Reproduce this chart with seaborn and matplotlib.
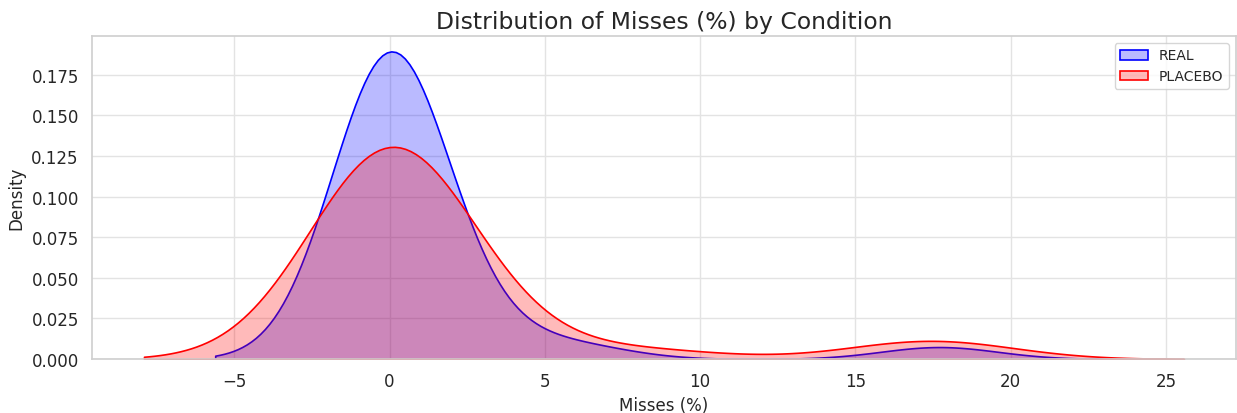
import matplotlib
matplotlib.use("Agg")
import matplotlib.pyplot as plt
import seaborn as sns
import numpy as np

# Misses (%) per participant, by condition
real_misses = [0.0] * 25 + [2.0, 3.5, 6.0, 17.7]
placebo_misses = [0.0] * 22 + [1.5, 3.5, 8.0, 17.2, 17.67]

conditions = ["REAL", "PLACEBO"]
colors = ["blue", "red"]

sns.set_theme(style="whitegrid")
plt.rcParams["font.family"] = ["DejaVu Sans"]

fig = plt.figure(figsize=(12.37, 4.14), dpi=100)
ax = fig.add_axes([92 / 1237, 54 / 414, 1144 / 1237, 323 / 414])

for label, values, color in zip(conditions, [real_misses, placebo_misses], colors):
    sns.kdeplot(x=np.asarray(values), ax=ax, fill=True, color=color, alpha=0.27,
                linewidth=1.2, bw_method="silverman", label=label)

ax.set_title("Distribution of Misses (%) by Condition", fontsize=16.9, color=".15")
ax.set_xlabel("Misses (%)", fontsize=12, color=".15")
ax.set_ylabel("Density", fontsize=12, color=".15")
ax.tick_params(axis="both", labelsize=12, colors=".15")
ax.grid(color="#e3e3e3", linewidth=1.0)
for side in ax.spines.values():
    side.set_edgecolor("#d0d0d0")
ax.legend(loc="upper right", fontsize=10)

fig.savefig("out.png", dpi=100)
